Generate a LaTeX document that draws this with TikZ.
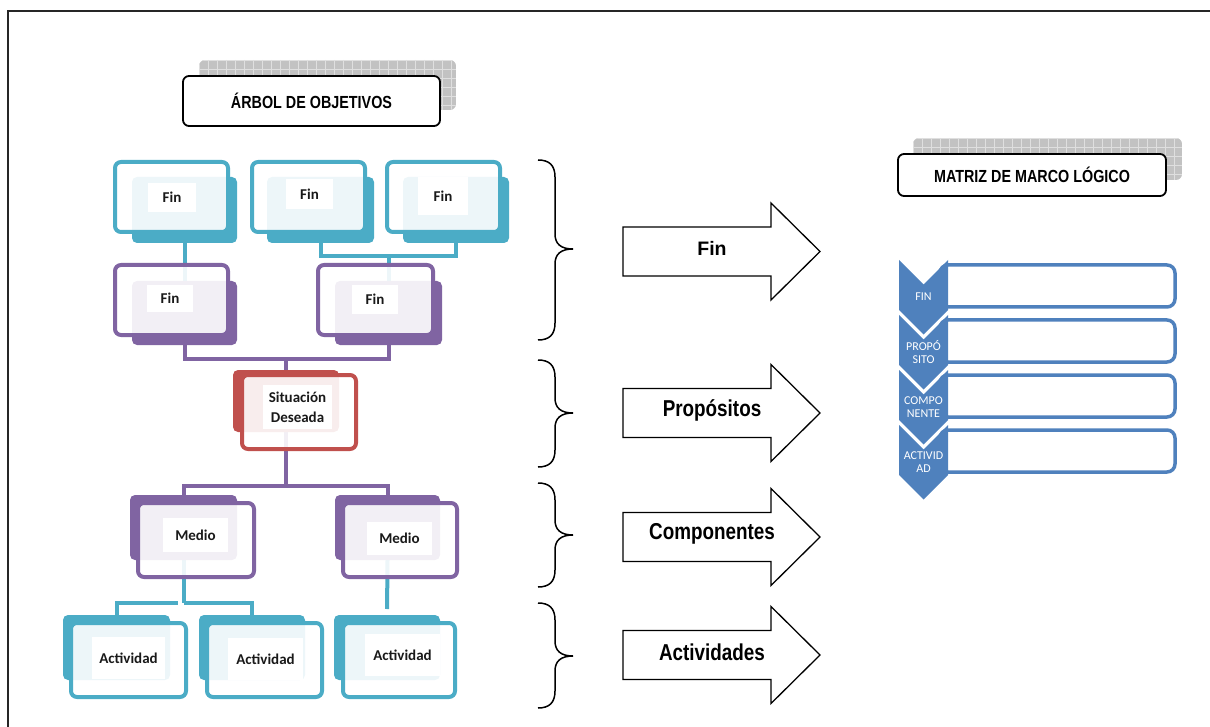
\documentclass[tikz,border=0pt]{standalone}
\usepackage{fontspec}
\usetikzlibrary{fit}
\newfontfamily\narrowsans{Liberation Sans}[FakeStretch=0.82]
\newfontfamily\widesans{Liberation Sans}
\newfontfamily\calib{Carlito}
\definecolor{oteal}{HTML}{4BACC6}
\definecolor{opurple}{HTML}{8064A2}
\definecolor{ored}{HTML}{C0504D}
\definecolor{oblue}{HTML}{4F81BD}
\pgfdeclarelayer{links}
\pgfsetlayers{links,main}

\tikzset{
  shadowbox/.style={rectangle, rounded corners=5pt, fill=#1, draw=none, inner sep=0pt, outer sep=0pt},
  frontbox/.style={rectangle, rounded corners=6pt, draw=#1, line width=4pt, fill=white, fill opacity=0.9, inner sep=0pt, outer sep=0pt},
  labelbox/.style={rectangle, fill=white, inner sep=0pt, outer sep=0pt},
  labeltext/.style={inner sep=0pt, align=center,
    font=\calib\bfseries\fontsize{15}{20}\selectfont, text=black!90},
  link/.style={draw=#1, line width=4pt},
  titlebox/.style={rectangle, rounded corners=6pt, draw=black, line width=1.8pt, fill=white,
    font=\narrowsans\bfseries\fontsize{17.5}{20}\selectfont},
  brace/.style={draw=black, line width=1.5pt},
  blockarrow/.style={draw=black, line width=1.3pt, fill=white, line join=miter},
  arrowtext/.style={font=\narrowsans\bfseries\fontsize{23}{26}\selectfont, inner sep=0pt},
  arrowtextwide/.style={font=\widesans\bfseries\fontsize{19.5}{22}\selectfont, inner sep=0pt},
  rowbox/.style={rectangle, rounded corners=8pt, draw=oblue, line width=3.5pt, fill=white, inner sep=0pt},
  chevron/.style={fill=oblue},
  chevtext/.style={font=\calib\fontsize{12}{13.5}\selectfont, text=white, align=center, inner sep=0pt},
}

% grey chequered backing plate behind a title
\newcommand\gridshadow[4]{%
  \begin{scope}
    \clip[rounded corners=6pt] (#1,#2) rectangle (#3,#4);
    \fill[gray!48] (#1,#2) rectangle (#3,#4);
    \foreach \k in {0,...,31} {\draw[gray!25, line width=0.7pt] ({#1+9*\k},#2) -- ({#1+9*\k},#4);}
    \foreach \k in {0,...,6} {\draw[gray!25, line width=0.7pt] (#1,{#2+9*\k}) -- (#3,{#2+9*\k});}
  \end{scope}}

% objective box: name, colour, shadow corners, front corners, label corners, text
\newcommand\goal[6]{%
  \node[shadowbox=#2, fit={#3}] (#1s) {};
  \node[frontbox=#2, fit={#4}] (#1f) {};
  \node[labelbox, fit={#5}] (#1b) {};
  \node[labeltext] (#1) at (#1b.center) {#6};}

% right curly brace: top y, bottom y, tip y
\newcommand\curly[3]{%
  \draw[brace] (538,#1) .. controls (549,#1) and (555,#1+5) .. (555,#1+17)
    -- (555,#3-15) .. controls (555,#3-5) and (561,#3) .. (573,#3)
    .. controls (561,#3) and (555,#3+5) .. (555,#3+15)
    -- (555,#2-17) .. controls (555,#2-5) and (549,#2) .. (538,#2);}

% block arrow: label name, centre y, text, text style
\newcommand\bigarrow[4]{%
  \draw[blockarrow] (623,#2-24.5) -- (771,#2-24.5) -- (771,#2-48.5) -- (820,#2)
    -- (771,#2+48.5) -- (771,#2+24.5) -- (623,#2+24.5) -- cycle;
  \node[#4] (#1) at (712,#2-3) {#3};}

\begin{document}
\begin{tikzpicture}[x=1pt,y=-1pt]
\useasboundingbox (0,0) rectangle (1210,727);
\draw[line width=1.8pt, black!85] (8,727) -- (8,11) -- (1210,11);

% titles
\gridshadow{199}{60}{456}{110}
\node[titlebox, minimum width=257pt, minimum height=50pt] (arbol) at (311.5,101) {ÁRBOL DE OBJETIVOS};
\gridshadow{913}{138}{1182}{180}
\node[titlebox, minimum width=268pt, minimum height=42pt] (matriz) at (1032,175) {MATRIZ DE MARCO LÓGICO};

% objective tree
\goal{fina}{oteal}{(132,177)(237,243)}{(115,162)(228,232)}{(148,183)(196,212)}{Fin}
\goal{finb}{oteal}{(267,177)(374,243)}{(252,162)(365,232)}{(286,179)(333,209)}{Fin}
\goal{finc}{oteal}{(403,177)(509,243)}{(387,162)(500,232)}{(418,177)(468,215)}{Fin}
\goal{find}{opurple}{(132,281)(237,345)}{(115,265)(228,335)}{(147,285)(193,312)}{Fin}
\goal{fine}{opurple}{(335,281)(442,345)}{(318,265)(433,335)}{(352,285)(398,314)}{Fin}
\goal{sit}{ored}{(233,370)(339,432)}{(242,375)(356,449)}{(263,385)(332,429)}{Situación\\Deseada}
\goal{meda}{opurple}{(130,495)(237,560)}{(138,503)(254,577)}{(163,518)(228,552)}{Medio}
\goal{medb}{opurple}{(335,495)(440,560)}{(343,503)(457,577)}{(367,522)(432,555)}{Medio}
\goal{acta}{oteal}{(63,615)(170,680)}{(71,623)(186,697)}{(92,637)(165,679)}{Actividad}
\goal{actb}{oteal}{(199,615)(305,680)}{(207,623)(322,697)}{(228,638)(303,680)}{Actividad}
\goal{actc}{oteal}{(334,615)(440,680)}{(343,623)(455,697)}{(365,634)(440,676)}{Actividad}

% tree links, behind the boxes
\begin{pgfonlayer}{links}
  \coordinate (ja) at (0,256);
  \coordinate (jb) at (0,359);
  \coordinate (jc) at (0,486);
  \coordinate (jd) at (0,603);
  \draw[link=oteal] (finas.south) -- (finds.north);
  \draw[link=oteal] (finbs.south) |- (fines.north |- ja) -| (fincs.south);
  \draw[link=oteal] (fines.north |- ja) -- (fines.north);
  \draw[link=opurple] (finds.south) |- (sits.north |- jb) -| (fines.south);
  \draw[link=opurple] (sits.north |- jb) -- (sits.north);
  \draw[link=opurple] (sits.south) -- (sits.south |- jc);
  \draw[link=opurple] (medas.north) |- (sits.south |- jc) -| (medbs.north);
  \draw[link=oteal] (medas.south) -- (medas.south |- jd);
  \draw[link=oteal, shorten >=6pt] (actas.north) |- (medas.south |- jd);
  \draw[link=oteal] (medas.south |- jd) -| ([yshift=-6pt]actbs.north);
  \draw[link=oteal, shorten >=6pt] (medbs.south) -- (actcs.north);
\end{pgfonlayer}

% braces and block arrows
\curly{160}{340}{249}
\curly{360}{467}{413}
\curly{483}{587}{535}
\curly{603}{708}{656}
\bigarrow{afin}{251.5}{Fin}{arrowtextwide}
\bigarrow{aprop}{413}{Propósitos}{arrowtext}
\bigarrow{acomp}{537}{Componentes}{arrowtext}
\bigarrow{aact}{655}{Actividades}{arrowtext}

% logical framework list
\foreach \i in {0,...,3} {
  \node[rowbox, minimum width=235pt, minimum height=42pt] (row\i) at (1057.5,{286+55*\i}) {};
}
\foreach \i/\t in {0/FIN, 1/{PROPÓ\\SITO}, 2/{COMPO\\NENTE}, 3/{ACTIVID\\AD}} {
  \fill[chevron] (899,{260+55*\i}) -- (923.5,{284.5+55*\i}) -- (948,{260+55*\i})
    -- (948,{310+55*\i}) -- (923.5,{334.5+55*\i}) -- (899,{310+55*\i}) -- cycle;
  \node[chevtext] (chev\i) at (923.5,{297+55*\i}) {\t};
}
\end{tikzpicture}
\end{document}
